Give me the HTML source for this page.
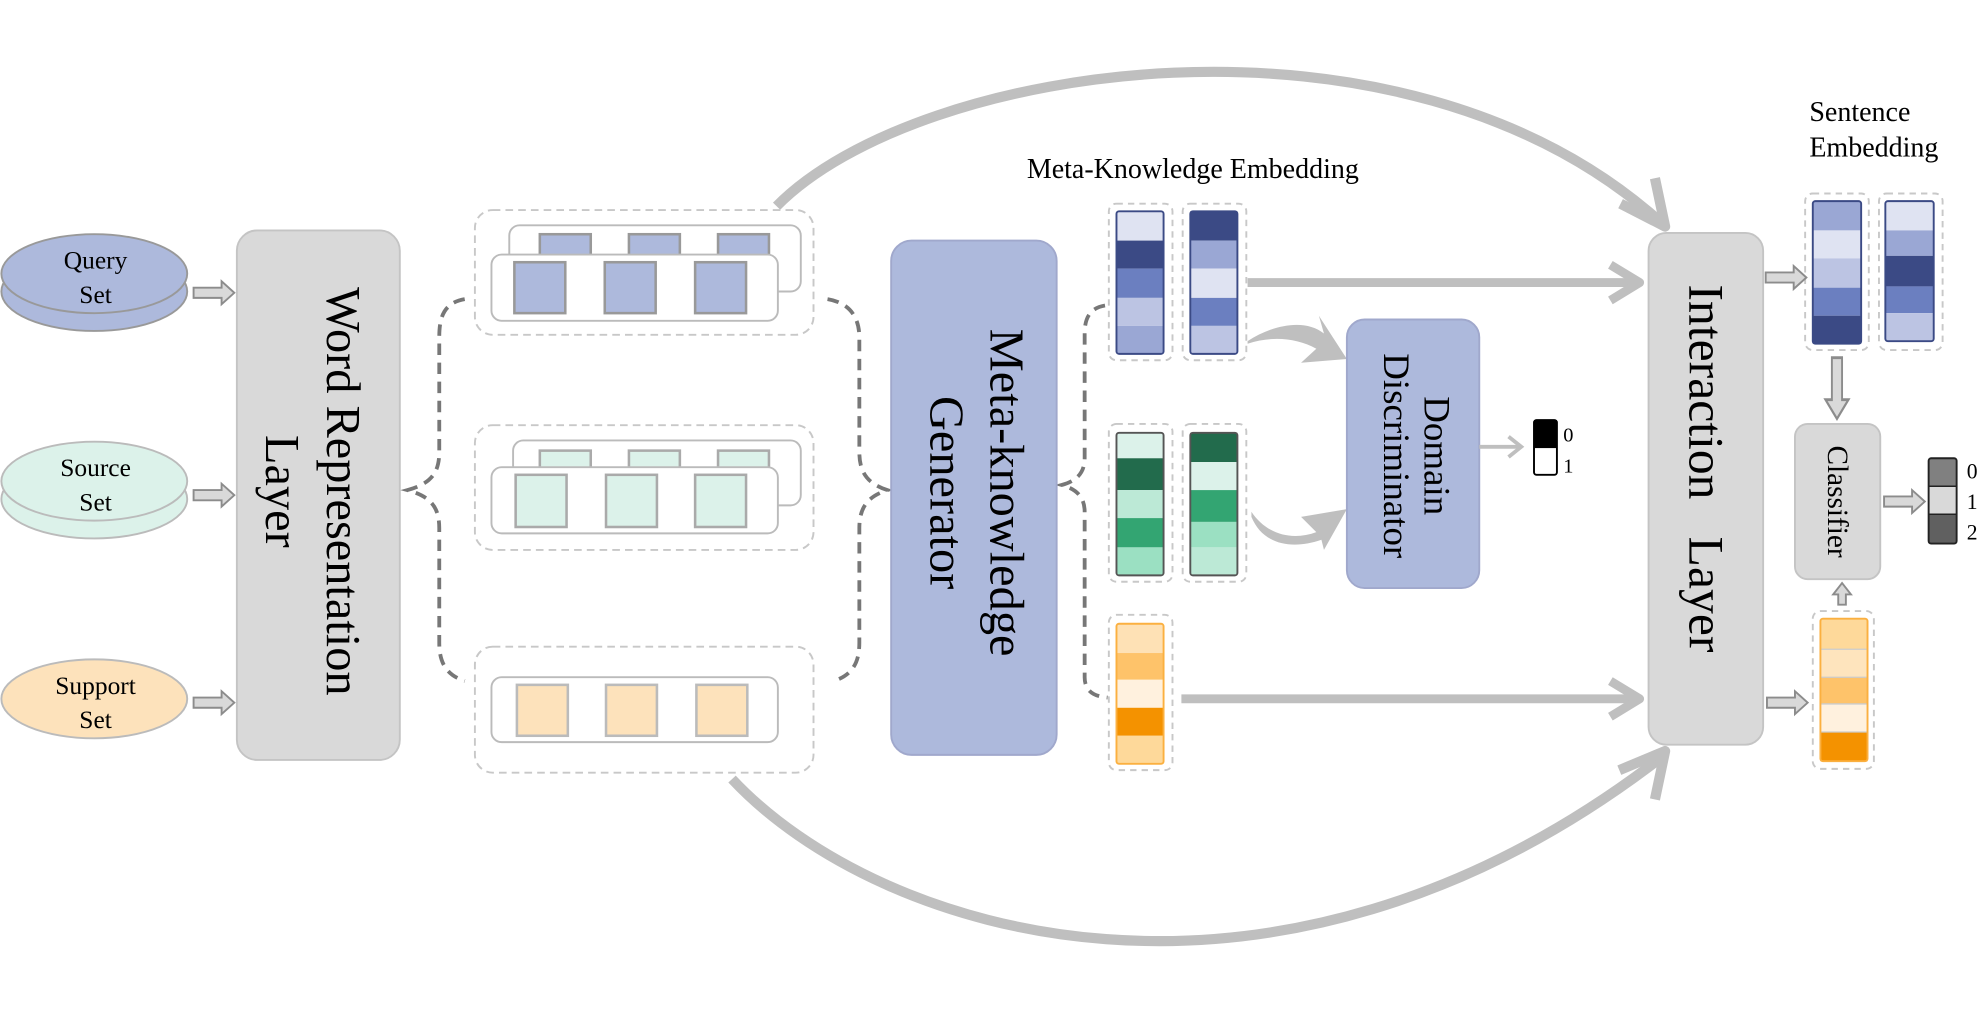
<!DOCTYPE html>
<html><head><meta charset="utf-8"><style>html,body{margin:0;padding:0;background:#fff}svg{display:block}text{font-family:"Liberation Serif",serif;fill:#000}</style></head><body>
<svg width="1986" height="1012" viewBox="0 0 1560 795" xmlns="http://www.w3.org/2000/svg">
<defs>
<g id="ha"><polygon points="0,-4 22,-4 22,-9 32,0 22,9 22,4 0,4" fill="#d9d9d9" stroke="#8c8c8c" stroke-width="1.5"/></g>
</defs>
<!-- big arcs -->
<path d="M610,162 C720,50 1100,-10 1305,175" fill="none" stroke="#bfbfbf" stroke-width="8"/>
<path d="M1273,160 L1308,178 L1300,140" fill="none" stroke="#bfbfbf" stroke-width="8" stroke-linejoin="round"/>
<path d="M575,612 C690,735 1000,830 1305,595" fill="none" stroke="#bfbfbf" stroke-width="8"/>
<path d="M1272,605 L1308,590 L1300,628" fill="none" stroke="#bfbfbf" stroke-width="8" stroke-linejoin="round"/>

<!-- ellipses -->
<ellipse cx="74" cy="229" rx="73" ry="31" fill="#adb9dc" stroke="#999" stroke-width="1.5"/>
<ellipse cx="74" cy="215" rx="73" ry="31" fill="#adb9dc" stroke="#999" stroke-width="1.5"/>
<text x="75" y="211" font-size="20" text-anchor="middle">Query</text><text x="75" y="238" font-size="20" text-anchor="middle">Set</text>
<ellipse cx="74" cy="392" rx="73" ry="31" fill="#dcf2ea" stroke="#bbb" stroke-width="1.5"/>
<ellipse cx="74" cy="378" rx="73" ry="31" fill="#dcf2ea" stroke="#bbb" stroke-width="1.5"/>
<text x="75" y="374" font-size="20" text-anchor="middle">Source</text><text x="75" y="401" font-size="20" text-anchor="middle">Set</text>
<ellipse cx="74" cy="549" rx="73" ry="31" fill="#fde2bb" stroke="#bbb" stroke-width="1.5"/>
<text x="75" y="545" font-size="20" text-anchor="middle">Support</text><text x="75" y="572" font-size="20" text-anchor="middle">Set</text>
<use href="#ha" x="152" y="230"/><use href="#ha" x="152" y="389"/><use href="#ha" x="152" y="552"/>

<!-- Word representation -->
<rect x="186" y="181" width="128" height="416" rx="16" fill="#d9d9d9" stroke="#c4c4c4" stroke-width="1.5"/>
<text transform="translate(257,386) rotate(90)" font-size="38" text-anchor="middle">Word Representation</text>
<text transform="translate(209,386) rotate(90)" font-size="38" text-anchor="middle">Layer</text>

<!-- word boxes -->
<g fill="none" stroke="#c8c8c8" stroke-width="1.5" stroke-dasharray="6,4">
<rect x="373" y="165" width="266" height="98" rx="14"/>
<rect x="373" y="334" width="266" height="98" rx="14"/>
<rect x="373" y="508" width="266" height="99" rx="14"/>
</g>
<g stroke="#bbb" stroke-width="1.5" fill="#fff">
<rect x="400" y="177" width="229" height="52" rx="8"/>
<rect x="403" y="346" width="226" height="51" rx="8"/>
</g>
<g fill="#adb9dc" stroke="#999" stroke-width="2">
<rect x="424" y="184" width="40" height="20"/><rect x="494" y="184" width="40" height="20"/><rect x="564" y="184" width="40" height="20"/>
</g>
<g fill="#dcf2ea" stroke="#aaa" stroke-width="2">
<rect x="424" y="354" width="40" height="20"/><rect x="494" y="354" width="40" height="20"/><rect x="564" y="354" width="40" height="20"/>
</g>
<g stroke="#bbb" stroke-width="1.5" fill="#fff">
<rect x="386" y="200" width="225" height="52" rx="8"/>
<rect x="386" y="367" width="225" height="52" rx="8"/>
<rect x="386" y="532" width="225" height="51" rx="8"/>
</g>
<g fill="#adb9dc" stroke="#999" stroke-width="2">
<rect x="404" y="206" width="40" height="40"/><rect x="475" y="206" width="40" height="40"/><rect x="546" y="206" width="40" height="40"/>
</g>
<g fill="#dcf2ea" stroke="#aaa" stroke-width="2">
<rect x="405" y="373" width="40" height="41"/><rect x="476" y="373" width="40" height="41"/><rect x="546" y="373" width="40" height="41"/>
</g>
<g fill="#fde2bb" stroke="#bbb" stroke-width="2">
<rect x="406" y="538" width="40" height="40"/><rect x="476" y="538" width="40" height="40"/><rect x="547" y="538" width="40" height="40"/>
</g>

<!-- braces -->
<g fill="none" stroke="#777" stroke-width="3" stroke-dasharray="9,6">
<path d="M365,235 C348,238 345,250 345,265 L345,355 C345,372 338,380 320,385 C338,390 345,398 345,415 L345,505 C345,520 350,530 365,535"/>
<path d="M650,235 C668,238 675,250 675,265 L675,355 C675,372 682,380 697,385 C682,390 675,398 675,415 L675,505 C675,520 670,530 655,535"/>
<path d="M868,240 C856,242 852,250 852,262 L852,360 C852,372 845,378 834,381 C845,384 852,390 852,402 L852,532 C852,542 858,547 870,548"/>
</g>

<!-- Meta-knowledge generator -->
<rect x="700" y="189" width="130" height="404" rx="16" fill="#adb9dc" stroke="#a0a8cc" stroke-width="1.5"/>
<text transform="translate(778,387) rotate(90)" font-size="38" text-anchor="middle">Meta-knowledge</text>
<text transform="translate(731,387) rotate(90)" font-size="38" text-anchor="middle">Generator</text>

<text x="937" y="140" font-size="22" text-anchor="middle">Meta-Knowledge Embedding</text>

<!-- embedding dashed boxes -->
<g fill="none" stroke="#c8c8c8" stroke-width="1.5" stroke-dasharray="5,4">
<rect x="871" y="160" width="50" height="123" rx="6"/><rect x="929" y="160" width="50" height="123" rx="6"/>
<rect x="871" y="333" width="50" height="124" rx="6"/><rect x="929" y="333" width="50" height="124" rx="6"/>
<rect x="871" y="483" width="50" height="122" rx="6"/>
<rect x="1418" y="152" width="50" height="123" rx="6"/><rect x="1476" y="152" width="50" height="123" rx="6"/>
<rect x="1424" y="480" width="48" height="124" rx="6"/>
</g>
<!-- blue cols -->
<g>
<rect x="877" y="166" width="37" height="23" fill="#dfe3f2"/><rect x="877" y="189" width="37" height="22" fill="#3b4a85"/><rect x="877" y="211" width="37" height="23" fill="#6b7fc0"/><rect x="877" y="234" width="37" height="22" fill="#bcc4e3"/><rect x="877" y="256" width="37" height="22" fill="#9aa7d4"/>
<rect x="877" y="166" width="37" height="112" rx="2" fill="none" stroke="#3b4a85" stroke-width="1.5"/>
<rect x="935" y="166" width="37" height="23" fill="#3b4a85"/><rect x="935" y="189" width="37" height="22" fill="#9aa7d4"/><rect x="935" y="211" width="37" height="23" fill="#dfe3f2"/><rect x="935" y="234" width="37" height="22" fill="#6b7fc0"/><rect x="935" y="256" width="37" height="22" fill="#bcc4e3"/>
<rect x="935" y="166" width="37" height="112" rx="2" fill="none" stroke="#3b4a85" stroke-width="1.5"/>
</g>
<!-- green cols -->
<g>
<rect x="877" y="340" width="37" height="20" fill="#dcf2ea"/><rect x="877" y="360" width="37" height="25" fill="#226b4c"/><rect x="877" y="385" width="37" height="22" fill="#bce9d6"/><rect x="877" y="407" width="37" height="23" fill="#33a572"/><rect x="877" y="430" width="37" height="22" fill="#9be0c2"/>
<rect x="877" y="340" width="37" height="112" rx="2" fill="none" stroke="#555" stroke-width="1.5"/>
<rect x="935" y="340" width="37" height="23" fill="#226b4c"/><rect x="935" y="363" width="37" height="22" fill="#dcf2ea"/><rect x="935" y="385" width="37" height="25" fill="#33a572"/><rect x="935" y="410" width="37" height="20" fill="#9be0c2"/><rect x="935" y="430" width="37" height="22" fill="#bce9d6"/>
<rect x="935" y="340" width="37" height="112" rx="2" fill="none" stroke="#555" stroke-width="1.5"/>
</g>
<!-- orange col -->
<g>
<rect x="877" y="490" width="37" height="23" fill="#fee1b5"/><rect x="877" y="513" width="37" height="21" fill="#fec36a"/><rect x="877" y="534" width="37" height="22" fill="#fff1de"/><rect x="877" y="556" width="37" height="22" fill="#f49200"/><rect x="877" y="578" width="37" height="22" fill="#fed99a"/>
<rect x="877" y="490" width="37" height="110" rx="2" fill="none" stroke="#fbb040" stroke-width="1.5"/>
</g>

<!-- straight arrows -->
<g fill="none" stroke="#bfbfbf" stroke-width="7" stroke-linejoin="round">
<path d="M980,222 L1288,222"/><path d="M1265,208 L1288,222 L1265,236"/>
<path d="M928,549 L1288,549"/><path d="M1265,535 L1288,549 L1265,563"/>
</g>
<!-- curved arrows into discriminator -->
<path d="M980,268 C1000,255 1025,250 1040,262 L1036,248 L1058,282 L1022,285 L1034,274 C1018,265 998,264 980,270 Z" fill="#bfbfbf"/>
<path d="M983,402 C995,420 1015,425 1034,418 L1022,406 L1058,400 L1040,432 L1038,424 C1015,432 992,428 983,406 Z" fill="#bfbfbf"/>

<!-- domain discriminator -->
<rect x="1058" y="251" width="104" height="211" rx="14" fill="#adb9dc" stroke="#a0a8cc" stroke-width="1.5"/>
<text transform="translate(1119,358) rotate(90)" font-size="29" text-anchor="middle">Domain</text>
<text transform="translate(1087,358) rotate(90)" font-size="29" text-anchor="middle">Discriminator</text>
<g fill="none" stroke="#bfbfbf" stroke-width="3"><path d="M1162,351 L1195,351"/><path d="M1185,343 L1195,351 L1185,359"/></g>
<rect x="1205" y="330" width="18" height="22" fill="#000"/>
<rect x="1205" y="330" width="18" height="43" rx="2" fill="none" stroke="#000" stroke-width="1.5"/>
<text x="1228" y="347" font-size="16">0</text><text x="1228" y="371" font-size="16">1</text>

<!-- interaction layer -->
<rect x="1295" y="183" width="90" height="402" rx="14" fill="#d9d9d9" stroke="#c4c4c4" stroke-width="1.5"/>
<text transform="translate(1327,368) rotate(90)" font-size="39" text-anchor="middle" xml:space="preserve">Interaction   Layer</text>

<!-- sentence embedding -->
<text x="1461" y="95" font-size="22" text-anchor="middle">Sentence</text>
<text x="1472" y="123" font-size="22" text-anchor="middle">Embedding</text>
<g>
<rect x="1424" y="158" width="38" height="23" fill="#9aa7d4"/><rect x="1424" y="181" width="38" height="22" fill="#dfe3f2"/><rect x="1424" y="203" width="38" height="23" fill="#bcc4e3"/><rect x="1424" y="226" width="38" height="22" fill="#6b7fc0"/><rect x="1424" y="248" width="38" height="22" fill="#3b4a85"/>
<rect x="1424" y="158" width="38" height="112" rx="2" fill="none" stroke="#3b4a85" stroke-width="1.5"/>
<rect x="1481" y="158" width="38" height="23" fill="#dfe3f2"/><rect x="1481" y="181" width="38" height="20" fill="#9aa7d4"/><rect x="1481" y="201" width="38" height="24" fill="#3b4a85"/><rect x="1481" y="225" width="38" height="21" fill="#6b7fc0"/><rect x="1481" y="246" width="38" height="22" fill="#bcc4e3"/>
<rect x="1481" y="158" width="38" height="110" rx="2" fill="none" stroke="#3b4a85" stroke-width="1.5"/>
</g>
<g>
<rect x="1430" y="486" width="37" height="24" fill="#fed99a"/><rect x="1430" y="510" width="37" height="22" fill="#fee4bd"/><rect x="1430" y="532" width="37" height="21" fill="#fec36a"/><rect x="1430" y="553" width="37" height="22" fill="#fff1de"/><rect x="1430" y="575" width="37" height="23" fill="#f49200"/>
<g stroke="#ccc" stroke-width="1"><path d="M1430,510 H1467 M1430,532 H1467 M1430,553 H1467 M1430,575 H1467"/></g>
<rect x="1430" y="486" width="37" height="112" rx="2" fill="none" stroke="#fbb040" stroke-width="1.5"/>
</g>
<use href="#ha" x="1387" y="218"/>
<use href="#ha" x="1388" y="552"/>
<use href="#ha" transform="translate(1443,281) rotate(90) scale(1.5,1)"/>
<polygon points="1444,475 1444,467 1440,467 1447,458 1454,467 1450,467 1450,475" fill="#d9d9d9" stroke="#8c8c8c" stroke-width="1.5"/>

<!-- classifier -->
<rect x="1410" y="333" width="67" height="122" rx="10" fill="#d9d9d9" stroke="#c4c4c4" stroke-width="1.5"/>
<text transform="translate(1436,394) rotate(90)" font-size="23" text-anchor="middle">Classifier</text>
<use href="#ha" x="1480" y="394"/>
<rect x="1515" y="360" width="22" height="22" fill="#808080"/><rect x="1515" y="382" width="22" height="22" fill="#d9d9d9"/><rect x="1515" y="404" width="22" height="23" fill="#606060"/>
<rect x="1515" y="360" width="22" height="67" rx="2" fill="none" stroke="#222" stroke-width="1.5"/>
<path d="M1515,382 H1537 M1515,404 H1537" stroke="#222" stroke-width="1.2"/>
<text x="1545" y="376" font-size="17">0</text><text x="1545" y="400" font-size="17">1</text><text x="1545" y="424" font-size="17">2</text>
</svg>
</body></html>
